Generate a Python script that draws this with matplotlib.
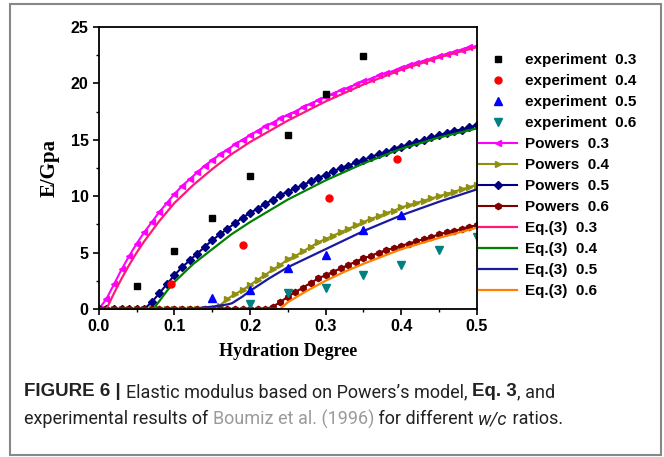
import matplotlib
matplotlib.use("Agg")
import matplotlib.pyplot as plt
import numpy as np
from matplotlib.patches import Rectangle

# experimental points (Boumiz et al.)
exp03_x = [0.05, 0.10, 0.15, 0.20, 0.25, 0.30, 0.35]
exp03_y = [2.0, 5.1, 8.1, 11.8, 15.4, 19.1, 22.4]
exp04_x = [0.095, 0.19, 0.305, 0.395]
exp04_y = [2.2, 5.7, 9.8, 13.3]
exp05_x = [0.15, 0.20, 0.25, 0.30, 0.35, 0.40]
exp05_y = [1.0, 1.7, 3.6, 4.8, 7.0, 8.3]
exp06_x = [0.20, 0.25, 0.30, 0.35, 0.40, 0.45, 0.50]
exp06_y = [0.4, 1.4, 1.9, 3.0, 3.9, 5.2, 6.4]

# Powers model, one point every 0.01
powers_x = np.round(np.arange(0, 0.501, 0.01), 2)
powers03 = [0.0, 0.9, 2.2, 3.5, 4.7, 5.8, 6.8, 7.7, 8.6, 9.4,
            10.2, 10.9, 11.5, 12.1, 12.7, 13.2, 13.7, 14.1, 14.6, 15.0,
            15.4, 15.8, 16.2, 16.5, 16.9, 17.2, 17.5, 17.9, 18.2, 18.5,
            18.8, 19.1, 19.4, 19.6, 19.9, 20.2, 20.4, 20.7, 20.9, 21.1,
            21.4, 21.6, 21.8, 22.0, 22.2, 22.4, 22.6, 22.8, 23.0, 23.2, 23.3]
powers04 = [0.0] * 16 + [0.3, 0.9, 1.3, 1.7,
            2.1, 2.6, 3.0, 3.5, 3.9, 4.4, 4.7, 5.1, 5.5, 5.9,
            6.2, 6.5, 6.8, 7.1, 7.4, 7.7, 8.0, 8.2, 8.5, 8.7,
            9.0, 9.2, 9.4, 9.6, 9.8, 10.0, 10.2, 10.4, 10.6, 10.8, 11.0]
powers05 = [0.0] * 7 + [0.6, 1.4, 2.2,
            3.0, 3.7, 4.3, 4.9, 5.5, 6.1, 6.6, 7.1, 7.6, 8.1,
            8.5, 8.9, 9.3, 9.7, 10.1, 10.4, 10.7, 11.0, 11.3, 11.6,
            11.9, 12.2, 12.5, 12.7, 13.0, 13.2, 13.5, 13.7, 13.9, 14.2,
            14.4, 14.6, 14.8, 15.0, 15.2, 15.4, 15.6, 15.8, 15.9, 16.1, 16.3]
powers06 = [0.0] * 23 + [0.2, 0.6, 1.1, 1.5, 1.9, 2.3, 2.7,
            3.0, 3.3, 3.6, 3.9, 4.2, 4.5, 4.7, 5.0, 5.2, 5.4,
            5.6, 5.8, 6.0, 6.2, 6.4, 6.6, 6.8, 6.9, 7.1, 7.3, 7.4]

# Eq.(3)
eq03_x = [0.01, 0.02, 0.03, 0.04, 0.05, 0.06, 0.08, 0.10, 0.125, 0.15, 0.175, 0.2, 0.25, 0.3, 0.35, 0.4, 0.45, 0.5]
eq03_y = [0.0, 1.4, 2.7, 3.9, 5.0, 6.0, 7.8, 9.4, 11.0, 12.4, 13.7, 14.8, 16.7, 18.4, 19.9, 21.2, 22.3, 23.2]
eq04_x = [0.072, 0.08, 0.09, 0.10, 0.125, 0.15, 0.175, 0.2, 0.25, 0.3, 0.35, 0.4, 0.45, 0.5]
eq04_y = [0.0, 0.7, 1.6, 2.4, 4.0, 5.3, 6.6, 7.7, 9.7, 11.4, 12.9, 14.2, 15.2, 16.0]
eq05_x = [0.135, 0.15, 0.16, 0.17, 0.176, 0.19, 0.2, 0.225, 0.25, 0.275, 0.3, 0.35, 0.4, 0.45, 0.5]
eq05_y = [0.1, 0.2, 0.3, 0.4, 0.5, 1.1, 1.6, 2.7, 3.7, 4.5, 5.3, 6.9, 8.3, 9.5, 10.6]
eq06_x = [0.0, 0.24, 0.25, 0.275, 0.3, 0.325, 0.35, 0.4, 0.45, 0.5]
eq06_y = [0.0, 0.0, 0.6, 1.6, 2.5, 3.3, 4.0, 5.3, 6.3, 7.2]

fig = plt.figure(figsize=(6.64, 4.57), dpi=100)
ax = fig.add_axes([0.149, 0.324, 0.569, 0.617])

ms = 4.5
ax.plot(powers_x, powers03, color="#ff00ff", marker="<", ms=ms, lw=1.5, label="Powers  0.3")
ax.plot(powers_x, powers04, color="#8f8f10", marker=">", ms=ms, lw=1.5, label="Powers  0.4")
ax.plot(powers_x, powers05, color="#000080", marker="D", ms=ms - 0.8, lw=1.5, label="Powers  0.5")
ax.plot(powers_x, powers06, color="#800000", marker="h", ms=ms, lw=1.5, label="Powers  0.6")

ax.plot(eq03_x, eq03_y, color="#ff1a7a", lw=1.6, label="Eq.(3)  0.3")
ax.plot(eq04_x, eq04_y, color="#008000", lw=1.6, label="Eq.(3)  0.4")
ax.plot(eq05_x, eq05_y, color="#1a1aa0", lw=1.6, label="Eq.(3)  0.5")
ax.plot(eq06_x, eq06_y, color="#ff8000", lw=1.6, label="Eq.(3)  0.6")

ax.plot(exp03_x, exp03_y, ls="none", marker="s", ms=5, color="black", label="experiment  0.3")
ax.plot(exp04_x, exp04_y, ls="none", marker="o", ms=5, color="#ff0000", label="experiment  0.4")
ax.plot(exp05_x, exp05_y, ls="none", marker="^", ms=5.5, color="#0000ff", label="experiment  0.5")
ax.plot(exp06_x, exp06_y, ls="none", marker="v", ms=5.5, color="#008080", label="experiment  0.6")

ax.set_xlim(0, 0.5)
ax.set_ylim(0, 25)
ax.set_xticks([0, 0.1, 0.2, 0.3, 0.4, 0.5])
ax.set_xticks(np.arange(0.05, 0.5, 0.1), minor=True)
ax.set_yticks([0, 5, 10, 15, 20, 25])
ax.set_yticks(np.arange(2.5, 25, 5), minor=True)
ax.tick_params(which="major", direction="out", length=4, width=1.2)
ax.tick_params(which="minor", direction="out", length=2.5, width=1)
for sp in ax.spines.values():
    sp.set_linewidth(1.3)
ax.set_xticklabels(["0.0", "0.1", "0.2", "0.3", "0.4", "0.5"])
for lab in ax.get_xticklabels() + ax.get_yticklabels():
    lab.set_fontfamily("Liberation Sans")
    lab.set_fontweight("bold")
    lab.set_fontsize(11.5)
ax.set_xlabel("Hydration Degree", family="Liberation Serif", weight="bold", fontsize=13, labelpad=6)
ax.set_ylabel("E/Gpa", family="Liberation Serif", weight="bold", fontsize=15, labelpad=8)

h, l = ax.get_legend_handles_labels()
order = list(range(8, 12)) + list(range(0, 8))
fig.legend([h[i] for i in order], [l[i] for i in order], loc="upper left",
           bbox_to_anchor=(0.721, 0.884), frameon=False, handlelength=2.5,
           handletextpad=0.55, labelspacing=0.46, borderaxespad=0, borderpad=0,
           prop={"family": "Liberation Sans", "weight": "bold", "size": 11})

# outer frame
fig.patches.append(Rectangle((10 / 664, 2 / 457), 651 / 664, 451 / 457, transform=fig.transFigure,
                             fill=False, edgecolor="#888888", lw=1.5))

# caption, drawn piece by piece
cap_size = 13.0
bold = dict(family="Liberation Sans", weight="bold", fontsize=13.5)
line1 = [("FIGURE 6 | ", bold),
         ("Elastic modulus based on Powers\u2019s model, ", {}),
         ("Eq. 3", bold),
         (", and", {})]
line2 = [("experimental results of ", {}),
         ("Boumiz et al. (1996)", dict(color="#9a9a9a")),
         (" for different ", {}),
         ("w/c", dict(style="italic")),
         (" ratios.", {})]
fig.canvas.draw()
renderer = fig.canvas.get_renderer()
for ypix, pieces in [(392, line1), (419, line2)]:
    x = 24 / 664
    for txt, kw in pieces:
        kw = dict(kw)
        kw.setdefault("color", "#222222")
        kw.setdefault("family", "Roboto")
        kw.setdefault("fontsize", cap_size)
        t = fig.text(x, 1 - ypix / 457, txt, va="center", ha="left", **kw)
        bb = t.get_window_extent(renderer)
        x += bb.width / fig.bbox.width

fig.savefig("out.png", dpi=100)
